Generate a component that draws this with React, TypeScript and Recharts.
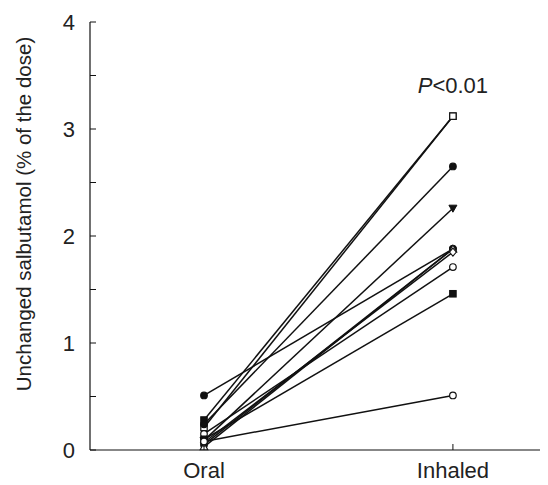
import { LineChart, Line, XAxis, YAxis, ReferenceDot } from "recharts"

// groups on the x axis (numeric positions 1 and 2)
const groups = ["Oral", "Inhaled"]
const groupPositions = [1, 2]

// one value per subject, same order in both arrays
const oralValues = [0.51, 0.28, 0.21, 0.24, 0.09, 0.05, 0.03, 0.07, 0.15, 0.1, 0.08]
const inhaledValues = [1.88, 3.12, 3.12, 2.65, 2.26, 1.88, 1.88, 1.85, 1.71, 1.46, 0.51]

const yTicks = [0, 0.5, 1, 1.5, 2, 2.5, 3, 3.5, 4]
const yTitle = "Unchanged salbutamol (% of the dose)"
const pValueText = "<0.01"
const pValueAt = { x: 2, y: 3.41 }

// marker style per subject
const markerShapes = [
  "filledCircle",
  "filledSquare",
  "openSquare",
  "filledCircle",
  "filledDown",
  "filledCircle",
  "openTriangle",
  "openDiamond",
  "openCircle",
  "filledSquare",
  "openCircle",
]

const INK = "#111"
const FONT = '"Liberation Sans", Arial, Helvetica, sans-serif'

const subjectKeys = oralValues.map((_, i) => `s${i + 1}`)
const rows = groups.map((name, g) => {
  const row: any = { name, x: groupPositions[g] }
  subjectKeys.forEach((k, i) => {
    row[k] = g === 0 ? oralValues[i] : inhaledValues[i]
  })
  return row
})

const makeDot = (shape: string) => (props: any) => {
  const { cx, cy, index, dataKey } = props
  const key = `${dataKey}-${index}`
  if (cx == null || cy == null) return <g key={key} />
  const filled = shape.startsWith("filled")
  const fill = filled ? INK : "#fff"
  if (shape.endsWith("Circle")) {
    return <circle key={key} cx={cx} cy={cy} r={3.3} fill={fill} stroke={INK} strokeWidth={1.2} />
  }
  if (shape.endsWith("Square")) {
    return <rect key={key} x={cx - 3.2} y={cy - 3.2} width={6.4} height={6.4} fill={fill} stroke={INK} strokeWidth={1.2} />
  }
  if (shape.endsWith("Diamond")) {
    return (
      <polygon key={key} points={`${cx},${cy - 4} ${cx + 3.5},${cy} ${cx},${cy + 4} ${cx - 3.5},${cy}`} fill={fill} stroke={INK} strokeWidth={1.1} />
    )
  }
  if (shape.endsWith("Down")) {
    return (
      <polygon key={key} points={`${cx - 4},${cy - 3} ${cx + 4},${cy - 3} ${cx},${cy + 4}`} fill={fill} stroke={INK} strokeWidth={1} />
    )
  }
  return (
    <polygon key={key} points={`${cx - 3.8},${cy + 3} ${cx + 3.8},${cy + 3} ${cx},${cy - 3.8}`} fill={fill} stroke={INK} strokeWidth={1.1} />
  )
}

const YTick = ({ x, y, payload }: any) => (
  <g>
    <line x1={x + 15} x2={x + 21} y1={y} y2={y} stroke={INK} strokeWidth={1} />
    {Number.isInteger(payload.value) && (
      <text x={x} y={y} dy="0.36em" textAnchor="end" fontSize={22} fill="#222">
        {payload.value}
      </text>
    )}
  </g>
)

const XTick = ({ x, y, payload }: any) => (
  <g>
    <line x1={x} x2={x} y1={y - 20} y2={y - 26} stroke={INK} strokeWidth={1} />
    <text x={x} y={y} dy="0.35em" textAnchor="middle" fontSize={22} fill="#222">
      {groups[groupPositions.indexOf(payload.value)]}
    </text>
  </g>
)

const YTitle = ({ viewBox }: any) => {
  const tx = viewBox.x + 15
  const ty = viewBox.y + viewBox.height / 2 - 22
  return (
    <text x={tx} y={ty} transform={`rotate(-90, ${tx}, ${ty})`} textAnchor="middle" dominantBaseline="central" fontSize={20.5} fill="#222">
      {yTitle}
    </text>
  )
}

const PValue = ({ viewBox }: any) => {
  const cx = viewBox.x + (viewBox.width || 0) / 2
  const cy = viewBox.y + (viewBox.height || 0) / 2
  return (
    <text x={cx} y={cy} dy="0.36em" textAnchor="middle" fontSize={22} fill="#222">
      <tspan fontStyle="italic">P</tspan>
      {pValueText}
    </text>
  )
}

export default function App() {
  return (
    <div style={{ width: 540, height: 477, fontFamily: FONT }}>
      <LineChart width={540} height={477} data={rows} margin={{ top: 14, right: 0, left: 0, bottom: 0 }}>
        <XAxis
          dataKey="x"
          type="number"
          domain={[0.542, 2.382]}
          ticks={groupPositions}
          height={35}
          tickLine={false}
          tickSize={0}
          tickMargin={20}
          axisLine={{ stroke: INK, strokeWidth: 1.2 }}
          tick={<XTick />}
        />
        <YAxis
          type="number"
          domain={[0, 4]}
          ticks={yTicks}
          width={82}
          tickLine={false}
          tickSize={0}
          tickMargin={15}
          axisLine={{ stroke: INK, strokeWidth: 1.2 }}
          tick={<YTick />}
          label={<YTitle />}
        />
        {subjectKeys.map((k, i) => (
          <Line
            key={k}
            dataKey={k}
            type="linear"
            stroke={INK}
            strokeWidth={1.5}
            dot={makeDot(markerShapes[i])}
            activeDot={false}
            isAnimationActive={false}
          />
        ))}
        <ReferenceDot x={pValueAt.x} y={pValueAt.y} r={0} fill="none" stroke="none" label={<PValue />} />
      </LineChart>
    </div>
  )
}
